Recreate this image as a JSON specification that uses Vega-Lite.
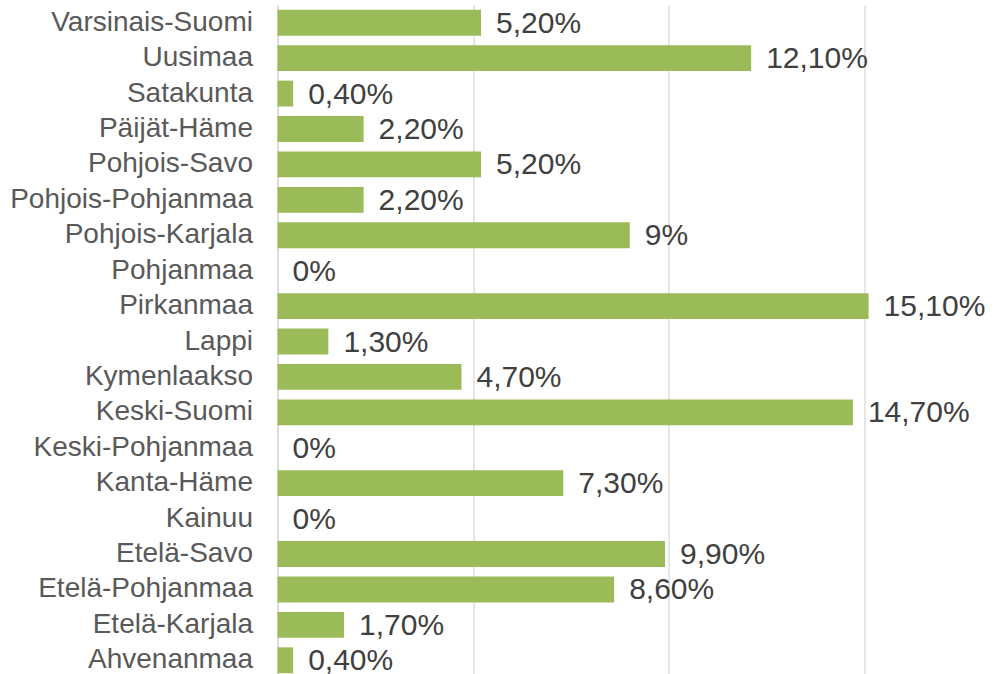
{
  "$schema": "https://vega.github.io/schema/vega-lite/v6.json",
  "autosize": {"type": "none"},
  "padding": {"left": 277.5, "top": 5, "right": 0, "bottom": 0},
  "width": 717.5,
  "height": 673,
  "background": "white",
  "config": {"view": {"stroke": null}, "font": "Liberation Sans"},
  "data": {"values": [
    {"region": "Varsinais-Suomi", "value": 5.2, "label": "5,20%"},
    {"region": "Uusimaa", "value": 12.1, "label": "12,10%"},
    {"region": "Satakunta", "value": 0.4, "label": "0,40%"},
    {"region": "Päijät-Häme", "value": 2.2, "label": "2,20%"},
    {"region": "Pohjois-Savo", "value": 5.2, "label": "5,20%"},
    {"region": "Pohjois-Pohjanmaa", "value": 2.2, "label": "2,20%"},
    {"region": "Pohjois-Karjala", "value": 9, "label": "9%"},
    {"region": "Pohjanmaa", "value": 0, "label": "0%"},
    {"region": "Pirkanmaa", "value": 15.1, "label": "15,10%"},
    {"region": "Lappi", "value": 1.3, "label": "1,30%"},
    {"region": "Kymenlaakso", "value": 4.7, "label": "4,70%"},
    {"region": "Keski-Suomi", "value": 14.7, "label": "14,70%"},
    {"region": "Keski-Pohjanmaa", "value": 0, "label": "0%"},
    {"region": "Kanta-Häme", "value": 7.3, "label": "7,30%"},
    {"region": "Kainuu", "value": 0, "label": "0%"},
    {"region": "Etelä-Savo", "value": 9.9, "label": "9,90%"},
    {"region": "Etelä-Pohjanmaa", "value": 8.6, "label": "8,60%"},
    {"region": "Etelä-Karjala", "value": 1.7, "label": "1,70%"},
    {"region": "Ahvenanmaa", "value": 0.4, "label": "0,40%"}
  ]},
  "encoding": {
    "y": {
      "field": "region", "type": "nominal", "sort": null,
      "scale": {"paddingInner": 0.27, "paddingOuter": 0.135},
      "axis": {
        "title": null, "ticks": false, "domain": true, "domainColor": "#D9D9D9", "domainWidth": 1.3,
        "labelFontSize": 28, "labelColor": "#595959", "labelPadding": 25, "labelLimit": 0,
        "labelFont": "Liberation Sans"
      }
    },
    "x": {
      "field": "value", "type": "quantitative",
      "scale": {"domain": [0, 18.33], "nice": false, "zero": true},
      "axis": {
        "title": null, "values": [0, 5, 10, 15], "labels": false, "ticks": false, "domain": false,
        "grid": true, "gridColor": "#D9D9D9", "gridWidth": 1.3
      }
    }
  },
  "layer": [
    {"mark": {"type": "bar", "color": "#9BBB59"}},
    {
      "mark": {"type": "text", "align": "left", "baseline": "middle", "dx": 15, "dy": 1, "fontSize": 30, "color": "#404040", "font": "Liberation Sans"},
      "encoding": {"text": {"field": "label"}}
    }
  ]
}
